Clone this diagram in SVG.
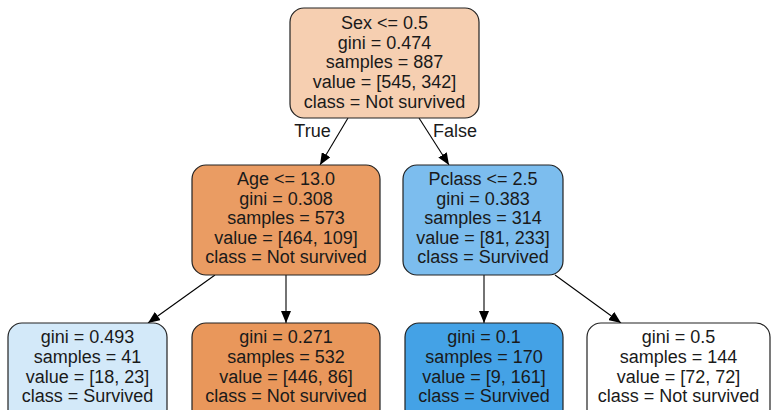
<svg xmlns="http://www.w3.org/2000/svg" width="771" height="410" viewBox="0 0 771 410">
<defs>
<marker id="ah" markerWidth="12" markerHeight="10" refX="12" refY="5" orient="auto" markerUnits="userSpaceOnUse">
<path d="M0,0 L12,5 L0,10 Z" fill="#000"/>
</marker>
<style>
.n{stroke:#222;stroke-width:1.2}
text{font-family:"Liberation Sans",Arial,sans-serif;font-size:18px;fill:#1a1a1a;text-anchor:middle}
.e{stroke:#000;stroke-width:1.1;fill:none;marker-end:url(#ah)}
</style>
</defs>
<rect width="771" height="410" fill="#fff"/>
<g id="edges">
<line class="e" x1="348" y1="118" x2="320" y2="165"/>
<line class="e" x1="419" y1="118" x2="449" y2="165"/>
<line class="e" x1="215" y1="275" x2="148" y2="323"/>
<line class="e" x1="286" y1="275" x2="286" y2="323"/>
<line class="e" x1="484" y1="275" x2="484" y2="323"/>
<line class="e" x1="555" y1="275" x2="621" y2="323"/>
<text x="312.5" y="137">True</text>
<text x="455" y="137">False</text>
</g>
<g id="root">
<rect class="n" x="290" y="8" width="189" height="110" rx="14" fill="#f6cfb1"/>
<text x="384.5" y="29">Sex &lt;= 0.5</text>
<text x="384.5" y="48.5">gini = 0.474</text>
<text x="384.5" y="68">samples = 887</text>
<text x="384.5" y="87.5">value = [545, 342]</text>
<text x="384.5" y="107.5">class = Not survived</text>
</g>
<g id="age">
<rect class="n" x="192" y="165" width="188" height="110" rx="14" fill="#ea9c63"/>
<text x="286" y="185">Age &lt;= 13.0</text>
<text x="286" y="204.5">gini = 0.308</text>
<text x="286" y="224">samples = 573</text>
<text x="286" y="243.5">value = [464, 109]</text>
<text x="286" y="263">class = Not survived</text>
</g>
<g id="pclass">
<rect class="n" x="403" y="165" width="160" height="110" rx="14" fill="#7cbdee"/>
<text x="483" y="185">Pclass &lt;= 2.5</text>
<text x="483" y="204.5">gini = 0.383</text>
<text x="483" y="224">samples = 314</text>
<text x="483" y="243.5">value = [81, 233]</text>
<text x="483" y="263">class = Survived</text>
</g>
<g id="leaf1">
<rect class="n" x="8" y="323" width="159" height="100" rx="14" fill="#d3e9f9"/>
<text x="87.5" y="343">gini = 0.493</text>
<text x="87.5" y="363">samples = 41</text>
<text x="87.5" y="382.5">value = [18, 23]</text>
<text x="87.5" y="402">class = Survived</text>
</g>
<g id="leaf2">
<rect class="n" x="192" y="323" width="188" height="100" rx="14" fill="#e9975b"/>
<text x="286" y="343">gini = 0.271</text>
<text x="286" y="363">samples = 532</text>
<text x="286" y="382.5">value = [446, 86]</text>
<text x="286" y="402">class = Not survived</text>
</g>
<g id="leaf3">
<rect class="n" x="405" y="323" width="158" height="100" rx="14" fill="#44a2e6"/>
<text x="484" y="343">gini = 0.1</text>
<text x="484" y="363">samples = 170</text>
<text x="484" y="382.5">value = [9, 161]</text>
<text x="484" y="402">class = Survived</text>
</g>
<g id="leaf4">
<rect class="n" x="587" y="323" width="183" height="100" rx="14" fill="#ffffff"/>
<text x="678.5" y="343">gini = 0.5</text>
<text x="678.5" y="363">samples = 144</text>
<text x="678.5" y="382.5">value = [72, 72]</text>
<text x="678.5" y="402">class = Not survived</text>
</g>
</svg>
